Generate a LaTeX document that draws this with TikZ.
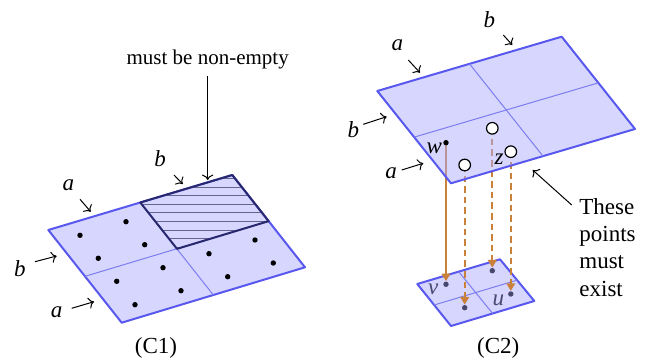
\documentclass[tikz,border=0pt]{standalone}
\usepackage{fontspec}
\setmainfont{Liberation Serif}
\usetikzlibrary{calc,arrows.meta}
\definecolor{pfill}{RGB}{214,214,255}
\definecolor{pfillT}{RGB}{173,173,255}
\definecolor{pedge}{RGB}{88,88,238}
\definecolor{pdiv}{RGB}{125,125,240}
\definecolor{navytwo}{RGB}{40,40,110}
\definecolor{hatchc}{RGB}{100,100,145}
\definecolor{brownc}{RGB}{200,128,58}
\definecolor{dotgray}{RGB}{72,72,110}
\begin{document}
\begin{tikzpicture}[x=0.5pt,y=-0.5pt,
  plane/.style={fill=pfill,draw=pedge,line width=1pt,line join=round},
  planeT/.style={fill=pfillT,fill opacity=0.5,draw=pedge,draw opacity=1,line width=1pt,line join=round},
  divider/.style={draw=pdiv,line width=0.5pt},
  hatchline/.style={draw=hatchc,line width=0.55pt},
  navyedge/.style={draw=navytwo,line width=1pt,line join=round},
  dot/.style={circle,fill=black,inner sep=0pt,minimum size=2.7pt},
  graydot/.style={circle,fill=dotgray,inner sep=0pt,minimum size=2.7pt},
  ocirc/.style={circle,draw=black,fill=white,line width=0.6pt,inner sep=0pt,minimum size=5.8pt},
  lab/.style={font=\fontsize{11.5}{13.6}\selectfont\itshape,inner sep=0pt},
  graylab/.style={lab,text=dotgray},
  txt/.style={font=\fontsize{11.5}{13.6}\selectfont,inner sep=0pt},
  lblarrow/.style={->,line width=0.5pt},
  brarrow/.style={draw=brownc,line width=1pt,-{Triangle[length=3.8pt,width=4.3pt]}},
  brdash/.style={brarrow,dash pattern=on 3.3pt off 2pt}
]
\useasboundingbox (0,0) rectangle (649,363);

% ---------------- C1 ----------------
\coordinate (p1a) at (121.7,322.7);
\coordinate (p1b) at (305,267.3);
\coordinate (p1c) at (232.3,175);
\coordinate (p1d) at (48.3,230);
\coordinate (m1t) at ($(p1d)!0.5!(p1c)$);
\coordinate (m1b) at ($(p1a)!0.5!(p1b)$);
\coordinate (m1l) at ($(p1a)!0.5!(p1d)$);
\coordinate (m1r) at ($(p1b)!0.5!(p1c)$);
\coordinate (m1c) at ($(p1a)!0.5!(p1c)$);
\draw[plane] (p1a) -- (p1b) -- (p1c) -- (p1d) -- cycle;
\draw[divider] (m1t) -- (m1b);
\draw[divider] (m1l) -- (m1r);
\begin{scope}
  \clip (m1t) -- (p1c) -- (m1r) -- (m1c) -- cycle;
  \foreach \yy in {178.5,187.1,...,252} \draw[hatchline] (130,\yy) -- (280,\yy);
\end{scope}
\draw[navyedge] (m1t) -- (p1c) -- (m1r) -- (m1c) -- cycle;
\foreach \p [count=\i] in {(126,221.7),(80,235.3),(144.7,244.7),(98.3,258.3),(163,267.7),(116.7,281.3),(181,290.7),(135,304.7),(209,253.7),(255,240),(273.3,263),(227.7,276.7)}
  \node[dot] (d\i) at \p {};

\node[lab] (la1) at (68.3,185) {a};
\coordinate (la1s) at (80,199.3); \coordinate (la1e) at (90.7,211.7);
\draw[lblarrow] (la1s) -- (la1e);
\node[lab] (lb1) at (160,159) {b};
\coordinate (lb1s) at (174,175); \coordinate (lb1e) at (182.7,184);
\draw[lblarrow] (lb1s) -- (lb1e);
\node[lab] (lb2) at (20,268.3) {b};
\coordinate (lb2s) at (35,261.7); \coordinate (lb2e) at (56.7,256);
\draw[lblarrow] (lb2s) -- (lb2e);
\node[lab] (la2) at (56.7,312.7) {a};
\coordinate (la2s) at (71.7,308.3); \coordinate (la2e) at (94,301.7);
\draw[lblarrow] (la2s) -- (la2e);

\node[font=\fontsize{10.5}{12}\selectfont] (mbne) at (207.7,59.3) {must be non-empty};
\coordinate (hatchtop) at (207.7,180);
\draw[lblarrow] (mbne) -- (hatchtop);

\node[txt] (cap1) at (156,348.3) {(C1)};

% ---------------- C2 lower plane ----------------
\coordinate (p3a) at (451,326);
\coordinate (p3b) at (534.3,301);
\coordinate (p3c) at (500,259.3);
\coordinate (p3d) at (417.3,284);
\draw[plane] (p3a) -- (p3b) -- (p3c) -- (p3d) -- cycle;
\draw[divider] ($(p3d)!0.5!(p3c)$) -- ($(p3a)!0.5!(p3b)$);
\draw[divider] ($(p3a)!0.5!(p3d)$) -- ($(p3b)!0.5!(p3c)$);
\node[graydot] (vdot) at (446,284.3) {};
\node[graydot] (q2) at (492.3,270.7) {};
\node[graydot] (q3) at (464.7,307.7) {};
\node[graydot] (udot) at (510.8,294) {};
\node[graylab] (vlab) at (433.3,289.3) {v};
\node[graylab] (ulab) at (498.3,300.7) {u};

% top points (positions)
\coordinate (wpt) at (446,142.7);
\coordinate (o1) at (492.3,128.3);
\coordinate (o2) at (464.7,165);
\coordinate (o3) at (510.8,151.7);

% brown arrows
\draw[brarrow] (wpt) -- (vdot);
\draw[brdash] (o1) -- (q2);
\draw[brdash] (o2) -- (q3);
\draw[brdash] (o3) -- (udot);

% ---------------- C2 upper plane ----------------
\coordinate (p2a) at (451,183.3);
\coordinate (p2b) at (635,129);
\coordinate (p2c) at (561.7,36.7);
\coordinate (p2d) at (377.3,91);
\draw[planeT] (p2a) -- (p2b) -- (p2c) -- (p2d) -- cycle;
\draw[divider] ($(p2d)!0.5!(p2c)$) -- ($(p2a)!0.5!(p2b)$);
\draw[divider] ($(p2a)!0.5!(p2d)$) -- ($(p2b)!0.5!(p2c)$);

\node[dot] (wdot) at (wpt) {};
\node[ocirc] (c1) at (o1) {};
\node[ocirc] (c2) at (o2) {};
\node[ocirc] (c3) at (o3) {};
\node[lab] (wlab) at (434.3,148.3) {w};
\node[lab] (zlab) at (499,159.3) {z};

\node[lab] (la3) at (397.3,45.7) {a};
\coordinate (la3s) at (408.3,60); \coordinate (la3e) at (420,72.7);
\draw[lblarrow] (la3s) -- (la3e);
\node[lab] (lb3) at (489.3,20) {b};
\coordinate (lb3s) at (503.3,35); \coordinate (lb3e) at (512.3,45);
\draw[lblarrow] (lb3s) -- (lb3e);
\node[lab] (lb4) at (353.3,130) {b};
\coordinate (lb4s) at (363.3,124.3); \coordinate (lb4e) at (386.7,116.7);
\draw[lblarrow] (lb4s) -- (lb4e);
\node[lab] (la4) at (391,173.3) {a};
\coordinate (la4s) at (401.7,170); \coordinate (la4e) at (423.3,163.3);
\draw[lblarrow] (la4s) -- (la4e);

\node[txt,anchor=west,align=left] (tpme) at (579,247.5) {These\\points\\must\\exist};
\coordinate (tps) at (571.7,205); \coordinate (tpe) at (532.7,170);
\draw[lblarrow] (tps) -- (tpe);

\node[txt] (cap2) at (498.3,348.3) {(C2)};
\end{tikzpicture}
\end{document}
